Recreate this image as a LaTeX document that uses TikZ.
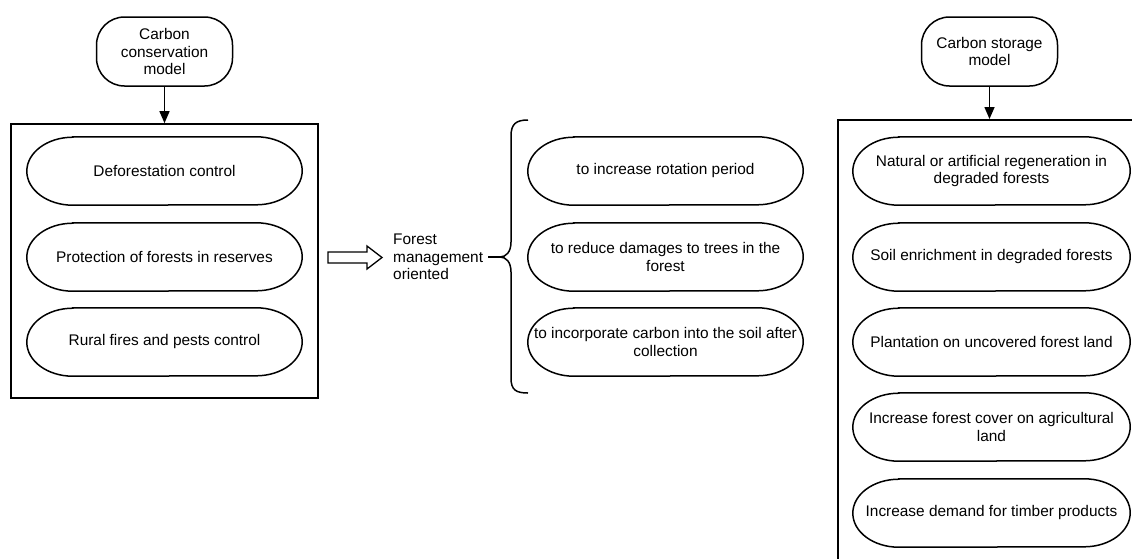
\documentclass[tikz,border=0pt]{standalone}
\usepackage{fontspec}
\setmainfont{Liberation Sans}
\usetikzlibrary{arrows.meta}
\begin{document}
\begin{tikzpicture}[x=1pt,y=-1pt,
  every node/.style={font=\fontsize{15.4}{17.5}\selectfont},
  line/.style={line width=1.5pt, black},
  oval/.style={rectangle, minimum width=275pt, minimum height=68pt, inner sep=0pt, align=center},
  term/.style={rectangle, rounded corners=28pt, draw, line width=1.5pt, minimum width=136pt, minimum height=69pt, inner sep=0pt, align=center},
  frame/.style={rectangle, draw, line width=1.7pt, inner sep=0pt},
  flow/.style={line width=1.5pt, -{Triangle[length=12pt,width=10pt]}}]
\useasboundingbox (0,0) rectangle (1132,558);

% top terminators
\node[term] (ccm) at (164.5,51.5) {Carbon\\conservation\\model};
\node[term] (csm) at (989.5,51.5) {Carbon storage\\model};

% left frame and its items
\node[frame, minimum width=307pt, minimum height=274pt] (lbox) at (164.5,261) {};
\draw[flow] (ccm) -- (lbox);
\node[oval] (l1) at (164.5,171) {Deforestation control};
\node[oval] (l2) at (164.5,257) {Protection of forests in reserves};
\node[oval] (l3) at (164.5,342) {Rural fires and pests control};

% hollow arrow
\draw[line width=1.3pt] (328,252) -- (367,252) -- (367,246) -- (382,257.5) -- (367,269) -- (367,263) -- (328,263) -- cycle;

% forest management text and brace
\node[anchor=west, align=left, inner sep=0pt] (fmo) at (393,257) {Forest\\management\\oriented};
\coordinate (tip) at (500,257);
\draw[line] ([xshift=5pt]fmo.east) -- (tip);
\draw[line] (528,120) .. controls (516,120) and (511,124) .. (511,136) -- (511,242)
  .. controls (511,252) and (506,257) .. (tip)
  .. controls (506,257) and (511,262) .. (511,272) -- (511,378)
  .. controls (511,390) and (516,393) .. (528,393);

% middle items
\node[oval] (m1) at (665.5,171) {to increase rotation period};
\node[oval] (m2) at (665.5,257) {to reduce damages to trees in the\\forest};
\node[oval] (m3) at (665.5,342) {to incorporate carbon into the soil after\\collection};

% right frame and its items
\node[frame, minimum width=305pt, minimum height=445pt, anchor=north west] (rbox) at (837,119) {};
\draw[flow] (csm) -- (csm |- rbox.north);
\node[oval, minimum width=277pt] (r1) at (991.5,171) {Natural or artificial regeneration in\\degraded forests};
\node[oval, minimum width=277pt] (r2) at (991.5,257) {Soil enrichment in degraded forests};
\node[oval, minimum width=277pt] (r3) at (991.5,342) {Plantation on uncovered forest land};
\node[oval, minimum width=277pt] (r4) at (991.5,427) {Increase forest cover on agricultural\\land};
\node[oval, minimum width=277pt] (r5) at (991.5,513) {Increase demand for timber products};

% oval outlines with elliptical ends
\foreach \n in {l1,l2,l3,m1,m2,m3,r1,r2,r3,r4,r5}
  \draw[line] ([xshift=46pt]\n.north west) -- ([xshift=-46pt]\n.north east)
    arc[start angle=90, end angle=-90, x radius=46pt, y radius=34pt]
    -- ([xshift=46pt]\n.south west)
    arc[start angle=270, end angle=90, x radius=46pt, y radius=34pt] -- cycle;
\end{tikzpicture}
\end{document}
